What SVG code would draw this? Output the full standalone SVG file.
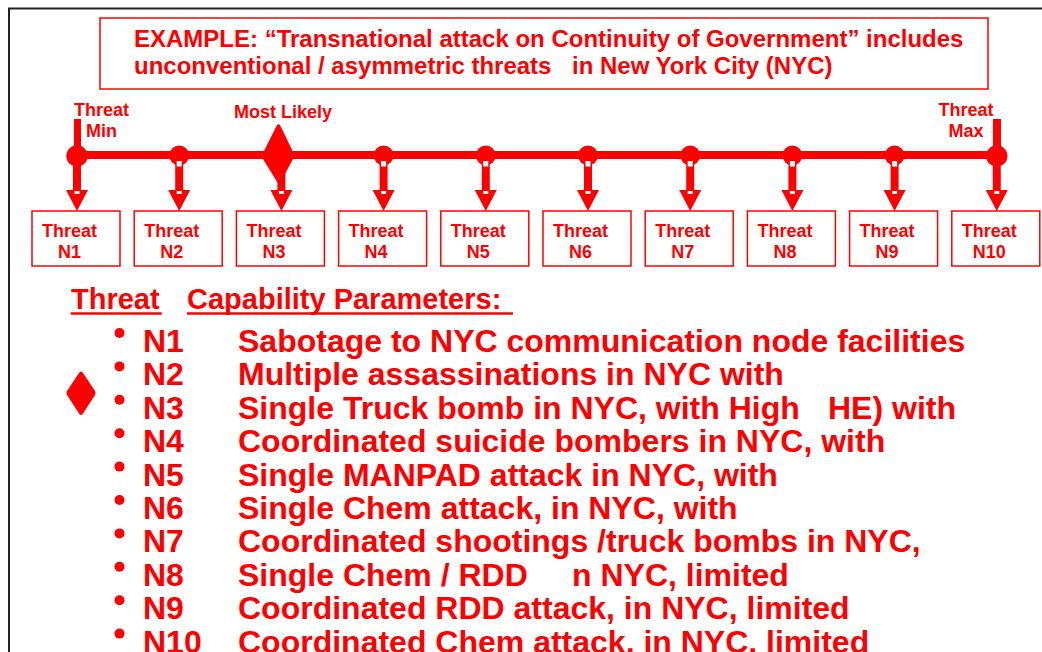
<svg xmlns="http://www.w3.org/2000/svg" width="1042" height="652" viewBox="0 0 1042 652">
  <style>
    text { font-family: "Liberation Sans", Arial, sans-serif; font-weight: bold; fill: #ff0000; }
    .title { font-size: 24px; }
    .lbl { font-size: 18px; text-anchor: middle; }
    .box { fill: #ffffff; stroke: #ff0000; stroke-width: 1.5; }
    .head { font-size: 29px; }
    .item { font-size: 32px; }
    .rule { stroke: #ff0000; stroke-width: 2.5; }
    .bar { stroke: #ff0000; stroke-width: 8; fill: none; }
    .shaft { stroke: #ff0000; stroke-width: 8; fill: none; marker-end: url(#head); }
    .dot { fill: #ff0000; }
    .gap { fill: #ffffff; }
  </style>
  <defs>
    <marker id="head" markerUnits="userSpaceOnUse" viewBox="0 0 21 22" markerWidth="21" markerHeight="22" refX="0" refY="11" orient="auto">
      <path d="M0,0 L21,11 L0,22 Z" fill="#ff0000"/>
      <rect x="1" y="8.5" width="3" height="5" fill="#ffffff"/>
    </marker>
  </defs>

  <rect width="1042" height="652" fill="#ffffff"/>
  <!-- page frame -->
  <path d="M9,652 V8.5 H1042" fill="none" stroke="#222222" stroke-width="2"/>

  <!-- heading box -->
  <g id="title">
    <rect x="100" y="18" width="888" height="71" class="box"/>
    <text class="title" x="134" y="47">EXAMPLE: “Transnational attack on Continuity of Government” includes</text>
    <text class="title" x="134" y="74">unconventional / asymmetric threats</text>
    <text class="title" x="572" y="74">in New York City (NYC)</text>
  </g>

  <!-- scale labels -->
  <g id="scale-labels">
    <rect x="74" y="119" width="7" height="36" fill="#ff0000"/>
    <text class="lbl" x="101.5" y="116">Threat</text>
    <text class="lbl" x="101.5" y="137">Min</text>
    <text class="lbl" x="283" y="118">Most Likely</text>
    <rect x="993" y="119" width="8" height="36" fill="#ff0000"/>
    <text class="lbl" x="966" y="116">Threat</text>
    <text class="lbl" x="966" y="137">Max</text>
  </g>

  <!-- scale line, tick markers and arrows down to the threat boxes -->
  <g id="connectors">
    <line class="bar" x1="77" y1="155" x2="997" y2="155"/>
    <path class="shaft" d="M77,155 V190"/>
    <path class="shaft" d="M179.2,155 V190"/>
    <path class="shaft" d="M281.4,160 V190"/>
    <path class="shaft" d="M383.6,155 V190"/>
    <path class="shaft" d="M485.8,155 V190"/>
    <path class="shaft" d="M588,155 V190"/>
    <path class="shaft" d="M690.2,155 V190"/>
    <path class="shaft" d="M792.4,155 V190"/>
    <path class="shaft" d="M894.6,155 V190"/>
    <path class="shaft" d="M996.8,155 V190"/>

    <circle class="dot" cx="77" cy="156" r="10.7"/>
    <circle class="dot" cx="179.2" cy="155.5" r="10"/>
    <path class="dot" d="M278.5,124 Q279.5,124 281,127 L294,154 Q295,156 293,159 L279,185 L263,159 Q261.5,156 263,153 L276,127 Q277.5,124 278.5,124 Z"/>
    <circle class="dot" cx="383.6" cy="155.5" r="10"/>
    <circle class="dot" cx="485.8" cy="155.5" r="10"/>
    <circle class="dot" cx="588" cy="155.5" r="10"/>
    <circle class="dot" cx="690.2" cy="155.5" r="10"/>
    <circle class="dot" cx="792.4" cy="155.5" r="10"/>
    <circle class="dot" cx="894.6" cy="155.5" r="10"/>
    <circle class="dot" cx="996.8" cy="156" r="10.7"/>

    <rect class="gap" x="176.7" y="161" width="5" height="5.5"/>
    <rect class="gap" x="381.1" y="161" width="5" height="5.5"/>
    <rect class="gap" x="483.3" y="161" width="5" height="5.5"/>
    <rect class="gap" x="585.5" y="161" width="5" height="5.5"/>
    <rect class="gap" x="687.7" y="161" width="5" height="5.5"/>
    <rect class="gap" x="789.9" y="161" width="5" height="5.5"/>
    <rect class="gap" x="892.1" y="161" width="5" height="5.5"/>
  </g>

  <!-- threat boxes -->
  <g id="threat-n1"><rect class="box" x="32" y="211" width="88" height="55"/><text class="lbl" x="69.5" y="237">Threat</text><text class="lbl" x="69.5" y="258">N1</text></g>
  <g id="threat-n2"><rect class="box" x="134.2" y="211" width="88" height="55"/><text class="lbl" x="171.7" y="237">Threat</text><text class="lbl" x="171.7" y="258">N2</text></g>
  <g id="threat-n3"><rect class="box" x="236.4" y="211" width="88" height="55"/><text class="lbl" x="273.9" y="237">Threat</text><text class="lbl" x="273.9" y="258">N3</text></g>
  <g id="threat-n4"><rect class="box" x="338.6" y="211" width="88" height="55"/><text class="lbl" x="376.1" y="237">Threat</text><text class="lbl" x="376.1" y="258">N4</text></g>
  <g id="threat-n5"><rect class="box" x="440.8" y="211" width="88" height="55"/><text class="lbl" x="478.3" y="237">Threat</text><text class="lbl" x="478.3" y="258">N5</text></g>
  <g id="threat-n6"><rect class="box" x="543" y="211" width="88" height="55"/><text class="lbl" x="580.5" y="237">Threat</text><text class="lbl" x="580.5" y="258">N6</text></g>
  <g id="threat-n7"><rect class="box" x="645.2" y="211" width="88" height="55"/><text class="lbl" x="682.7" y="237">Threat</text><text class="lbl" x="682.7" y="258">N7</text></g>
  <g id="threat-n8"><rect class="box" x="747.4" y="211" width="88" height="55"/><text class="lbl" x="784.9" y="237">Threat</text><text class="lbl" x="784.9" y="258">N8</text></g>
  <g id="threat-n9"><rect class="box" x="849.6" y="211" width="88" height="55"/><text class="lbl" x="887.1" y="237">Threat</text><text class="lbl" x="887.1" y="258">N9</text></g>
  <g id="threat-n10"><rect class="box" x="951.8" y="211" width="88" height="55"/><text class="lbl" x="989.3" y="237">Threat</text><text class="lbl" x="989.3" y="258">N10</text></g>

  <!-- capability list -->
  <g id="capabilities">
    <text class="head" x="71" y="309">Threat</text>
    <line class="rule" x1="70.7" y1="313.5" x2="161.7" y2="313.5"/>
    <text class="head" x="187" y="309">Capability Parameters:</text>
    <line class="rule" x1="187" y1="313.5" x2="513" y2="313.5"/>

    <path class="dot" d="M81,371.5 Q82,371.5 83,373 L95,391 Q96,393 95,395 L83,413.5 Q82,415 81,415 Q80,415 79,413.5 L67,395 Q66,393 67,391 L79,373 Q80,371.5 81,371.5 Z"/>

    <circle class="dot" cx="119.5" cy="333" r="5"/>
    <circle class="dot" cx="119.5" cy="366.4" r="5"/>
    <circle class="dot" cx="119.5" cy="399.8" r="5"/>
    <circle class="dot" cx="119.5" cy="433.2" r="5"/>
    <circle class="dot" cx="119.5" cy="466.6" r="5"/>
    <circle class="dot" cx="119.5" cy="500" r="5"/>
    <circle class="dot" cx="119.5" cy="533.4" r="5"/>
    <circle class="dot" cx="119.5" cy="566.8" r="5"/>
    <circle class="dot" cx="119.5" cy="600.2" r="5"/>
    <circle class="dot" cx="119.5" cy="633.6" r="5"/>

    <text class="item" x="143" y="352">N1</text>
    <text class="item" x="143" y="385.4">N2</text>
    <text class="item" x="143" y="418.8">N3</text>
    <text class="item" x="143" y="452.2">N4</text>
    <text class="item" x="143" y="485.6">N5</text>
    <text class="item" x="143" y="519">N6</text>
    <text class="item" x="143" y="552.4">N7</text>
    <text class="item" x="143" y="585.8">N8</text>
    <text class="item" x="143" y="619.2">N9</text>
    <text class="item" x="143" y="652.6">N10</text>

    <text class="item" x="238" y="352">Sabotage to NYC communication node facilities</text>
    <text class="item" x="238" y="385.4">Multiple assassinations in NYC with</text>
    <text class="item" x="238" y="418.8">Single Truck bomb in NYC, with High</text>
    <text class="item" x="828" y="418.8">HE) with</text>
    <text class="item" x="238" y="452.2">Coordinated suicide bombers in NYC, with</text>
    <text class="item" x="238" y="485.6">Single MANPAD attack in NYC, with</text>
    <text class="item" x="238" y="519">Single Chem attack, in NYC, with</text>
    <text class="item" x="238" y="552.4">Coordinated shootings /truck bombs in NYC,</text>
    <text class="item" x="238" y="585.8">Single Chem / RDD</text>
    <text class="item" x="572" y="585.8">n NYC, limited</text>
    <text class="item" x="238" y="619.2">Coordinated RDD attack, in NYC, limited</text>
    <text class="item" x="238" y="652.6">Coordinated Chem attack, in NYC, limited</text>
  </g>
</svg>
